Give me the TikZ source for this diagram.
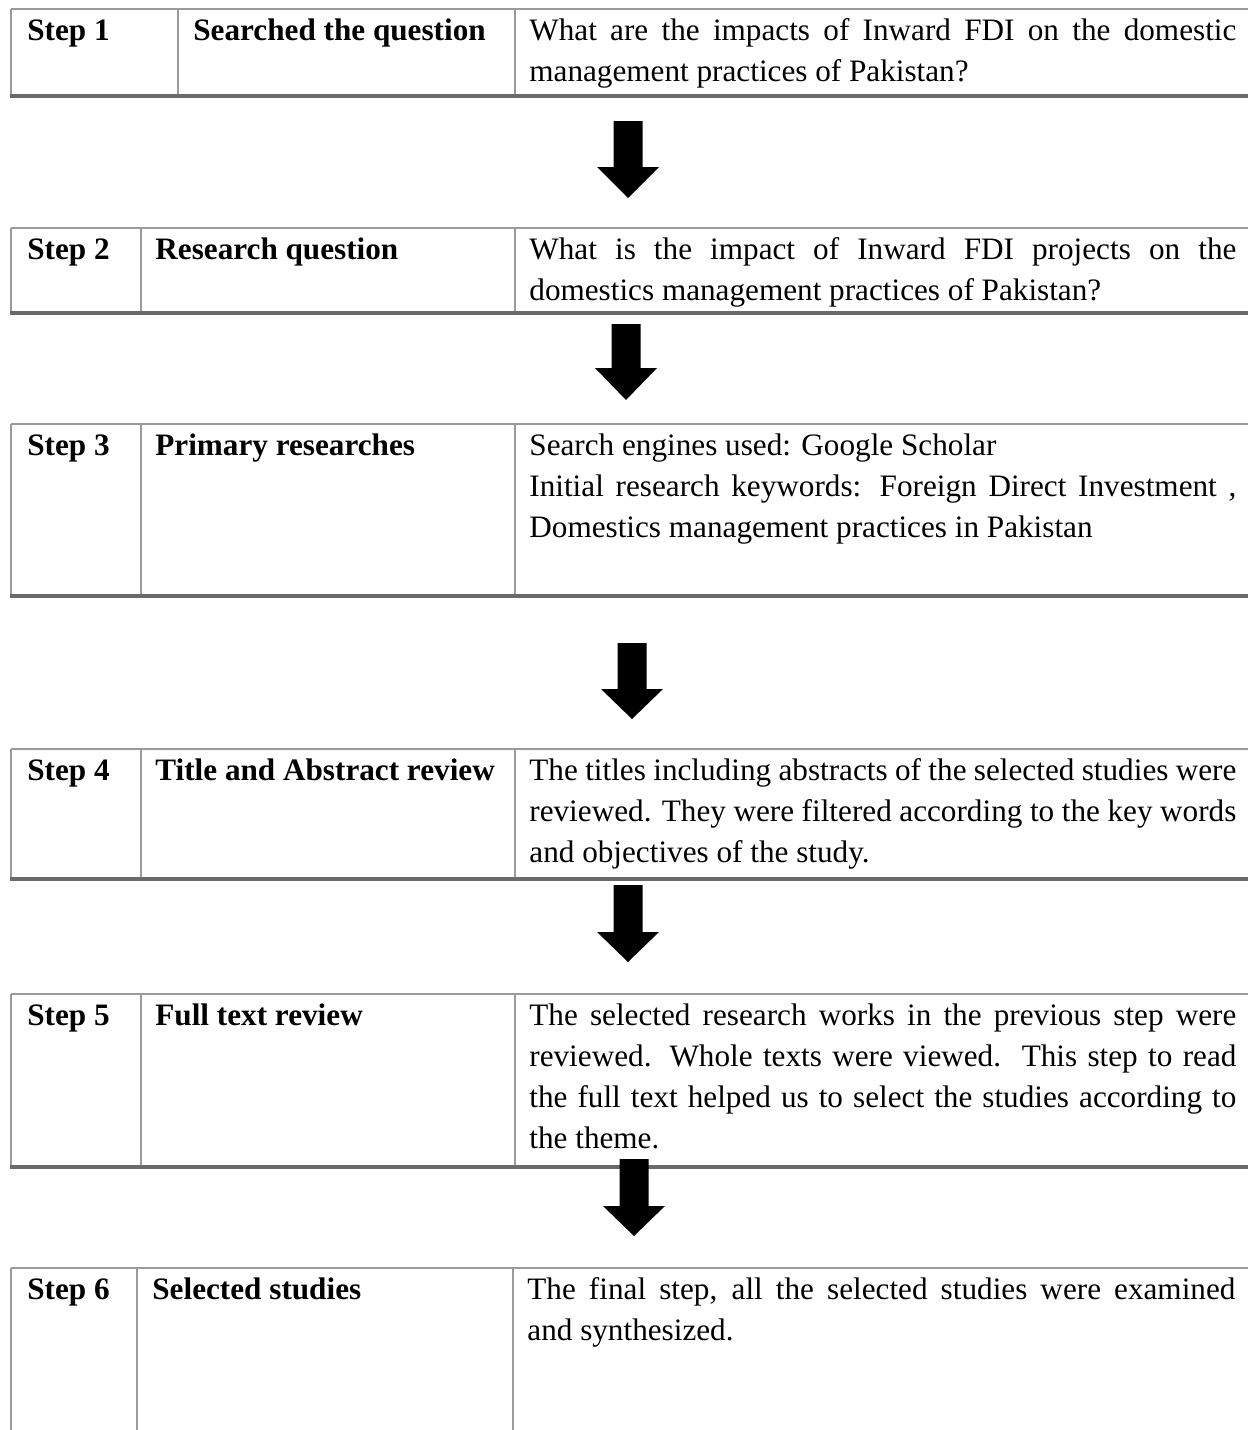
\documentclass[tikz,border=0pt]{standalone}
\usepackage{fontspec}
\setmainfont{Liberation Serif}
\definecolor{thingray}{HTML}{9A9A9A}
\definecolor{thickgray}{HTML}{6A6A6A}
\newcommand\jline[2]{\makebox[#1][s]{#2}}
\newcommand\rowframe[4]{%
  \draw[thinline] (11,#1) -- (1248,#1);
  \draw[thinline] (11,#1) -- (11,#2);
  \draw[thinline] (#3,#1) -- (#3,#2);
  \draw[thinline] (#4,#1) -- (#4,#2);
  \draw[thickline] (10,#2) -- (1248,#2);}
\newcommand\bkarrow[5]{%
  \fill[black] ({#2-14.5},#3) -- ({#2+14.5},#3) -- ({#2+14.5},#4) -- ({#2+31},#4)
    -- (#2,#5) -- ({#2-31},#4) -- ({#2-14.5},#4) -- cycle;
  \coordinate (#1) at (#2,#5);}
\begin{document}
\begin{tikzpicture}[x=0.5pt,y=-0.5pt,
  thinline/.style={draw=thingray, line width=1pt},
  thickline/.style={draw=thickgray, line width=2pt},
  txt/.style={anchor=base west, inner sep=0pt, font=\fontsize{15.6pt}{20.5pt}\selectfont},
  btxt/.style={anchor=base west, inner sep=0pt, font=\fontsize{15.6pt}{20.5pt}\selectfont\bfseries}]
\useasboundingbox (0,0) rectangle (1248,1430);
\fill[white] (0,0) rectangle (1248,1430);

% ---------- Step 1
\rowframe{9}{95.5}{178}{515}
\node[btxt] (s1) at (27,40) {Step 1};
\node[btxt] (h1) at (193,40) {Searched the question};
\node[txt] (d1a) at (529,40) {\jline{353.5pt}{What are the impacts of Inward FDI on the domestic}};
\node[txt] (d1b) at (529,81) {management practices of Pakistan?};
\bkarrow{a1}{628}{121}{167}{198}

% ---------- Step 2
\rowframe{228}{313}{141}{515}
\node[btxt] (s2) at (27,259) {Step 2};
\node[btxt] (h2) at (155,259) {Research question};
\node[txt] (d2a) at (529,259) {\jline{353.5pt}{What is the impact of Inward FDI projects on the}};
\node[txt] (d2b) at (529,300) {domestics management practices of Pakistan?};
\bkarrow{a2}{626}{324}{368}{400}

% ---------- Step 3
\rowframe{424}{596}{141}{515}
\node[btxt] (s3) at (27,455) {Step 3};
\node[btxt] (h3) at (155,455) {Primary researches};
\node[txt] (d3a) at (529,455) {Search engines used: Google Scholar};
\node[txt] (d3b) at (529,496) {\jline{353.5pt}{Initial research keywords: Foreign Direct Investment ,}};
\node[txt] (d3c) at (529,537) {Domestics management practices in Pakistan};
\bkarrow{a3}{632}{643}{689}{719}

% ---------- Step 4
\rowframe{749}{879}{141}{515}
\node[btxt] (s4) at (27,780) {Step 4};
\node[btxt] (h4) at (155,780) {Title and Abstract review};
\node[txt] (d4a) at (529,780) {\jline{353.5pt}{The titles including abstracts of the selected studies were}};
\node[txt] (d4b) at (529,821) {\jline{353.5pt}{reviewed. They were filtered according to the key words}};
\node[txt] (d4c) at (529,862) {and objectives of the study.};
\bkarrow{a4}{628}{885}{932}{962}

% ---------- Step 5
\rowframe{994}{1167}{141}{515}
\node[btxt] (s5) at (27,1025) {Step 5};
\node[btxt] (h5) at (155,1025) {Full text review};
\node[txt] (d5a) at (529,1025) {\jline{353.5pt}{The selected research works in the previous step were}};
\node[txt] (d5b) at (529,1066) {\jline{353.5pt}{reviewed. Whole texts were viewed.\ \ This step to read}};
\node[txt] (d5c) at (529,1107) {\jline{353.5pt}{the full text helped us to select the studies according to}};
\node[txt] (d5d) at (529,1148) {the theme.};
\bkarrow{a5}{634}{1159}{1206}{1236}

% ---------- Step 6
\draw[thinline] (11,1268) -- (1248,1268);
\draw[thinline] (11,1268) -- (11,1430);
\draw[thinline] (137,1268) -- (137,1430);
\draw[thinline] (513,1268) -- (513,1430);
\node[btxt] (s6) at (27,1299) {Step 6};
\node[btxt] (h6) at (152,1299) {Selected studies};
\node[txt] (d6a) at (527,1299) {\jline{354pt}{The final step, all the selected studies were examined}};
\node[txt] (d6b) at (527,1340) {and synthesized.};
\end{tikzpicture}
\end{document}
